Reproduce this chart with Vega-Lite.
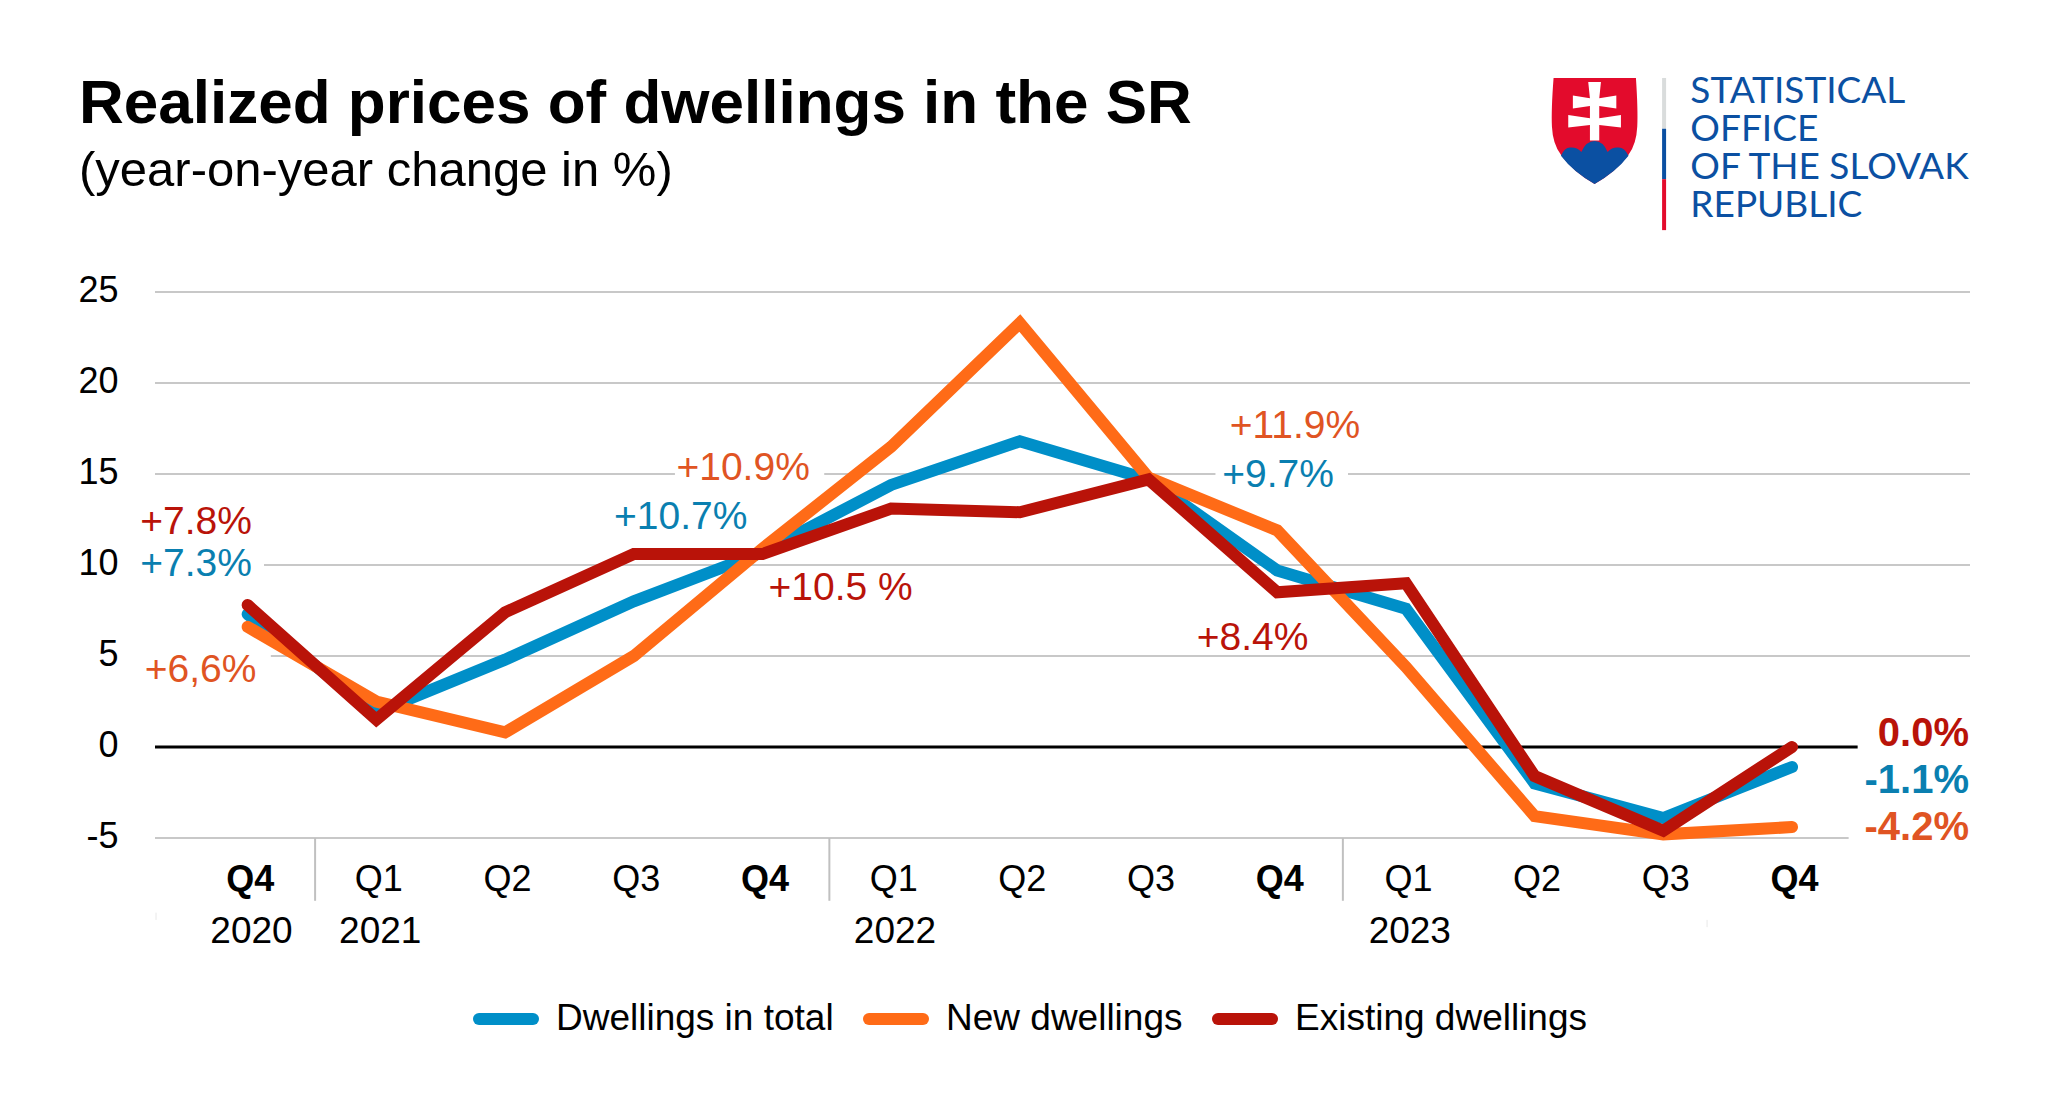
{
"$schema":"https://vega.github.io/schema/vega-lite/v6.json",
"width":1815,"height":546,
"autosize":{"type":"none"},
"padding":{"left":155,"top":292,"right":78,"bottom":279},
"background":"white",
"config":{"view":{"stroke":null},"font":"Liberation Sans","axis":{"title":null,"grid":false,"domain":false,"ticks":false,"labelFont":"Liberation Sans","labelFontSize":36,"labelColor":"black"}},
"title":{"text":"Realized prices of dwellings in the SR","subtitle":"(year-on-year change in %)","anchor":"start","frame":"group","dx":-76,"offset":-124,"font":"Liberation Sans","fontSize":62,"fontWeight":"bold","color":"black","subtitleFont":"Liberation Sans","subtitleFontSize":49,"subtitleColor":"black","subtitlePadding":11},
"datasets":{
"grid":[
{"v":25,"from":-0.72,"to":13.383},{"v":20,"from":-0.72,"to":13.383},
{"v":15,"from":-0.72,"to":3.32},{"v":15,"from":4.48,"to":7.52},{"v":15,"from":8.55,"to":13.383},
{"v":10,"from":0.127,"to":13.383},{"v":5,"from":0.18,"to":13.383},{"v":-5,"from":-0.72,"to":12.44}],
"series":[
{"t":0,"series":"Dwellings in total","value":7.3},{"t":1,"series":"Dwellings in total","value":1.9},{"t":2,"series":"Dwellings in total","value":4.8},{"t":3,"series":"Dwellings in total","value":8.0},{"t":4,"series":"Dwellings in total","value":10.7},{"t":5,"series":"Dwellings in total","value":14.4},{"t":6,"series":"Dwellings in total","value":16.8},{"t":7,"series":"Dwellings in total","value":14.7},{"t":8,"series":"Dwellings in total","value":9.7},{"t":9,"series":"Dwellings in total","value":7.6},{"t":10,"series":"Dwellings in total","value":-2.0},{"t":11,"series":"Dwellings in total","value":-3.9},{"t":12,"series":"Dwellings in total","value":-1.1},
{"t":0,"series":"New dwellings","value":6.6},{"t":1,"series":"New dwellings","value":2.5},{"t":2,"series":"New dwellings","value":0.8},{"t":3,"series":"New dwellings","value":5.0},{"t":4,"series":"New dwellings","value":10.9},{"t":5,"series":"New dwellings","value":16.5},{"t":6,"series":"New dwellings","value":23.3},{"t":7,"series":"New dwellings","value":14.8},{"t":8,"series":"New dwellings","value":11.9},{"t":9,"series":"New dwellings","value":4.4},{"t":10,"series":"New dwellings","value":-3.8},{"t":11,"series":"New dwellings","value":-4.8},{"t":12,"series":"New dwellings","value":-4.4},
{"t":0,"series":"Existing dwellings","value":7.8},{"t":1,"series":"Existing dwellings","value":1.5},{"t":2,"series":"Existing dwellings","value":7.4},{"t":3,"series":"Existing dwellings","value":10.6},{"t":4,"series":"Existing dwellings","value":10.6},{"t":5,"series":"Existing dwellings","value":13.1},{"t":6,"series":"Existing dwellings","value":12.9},{"t":7,"series":"Existing dwellings","value":14.7},{"t":8,"series":"Existing dwellings","value":8.5},{"t":9,"series":"Existing dwellings","value":9.0},{"t":10,"series":"Existing dwellings","value":-1.6},{"t":11,"series":"Existing dwellings","value":-4.6},{"t":12,"series":"Existing dwellings","value":0.0}],
"labels":[
{"t":-0.401,"v":12.39,"series":"Existing dwellings","label":"+7.8%"},
{"t":-0.401,"v":10.08,"series":"Dwellings in total","label":"+7.3%"},
{"t":-0.366,"v":4.23,"series":"New dwellings","label":"+6,6%"},
{"t":3.85,"v":15.33,"series":"New dwellings","label":"+10.9%"},
{"t":3.365,"v":12.64,"series":"Dwellings in total","label":"+10.7%"},
{"t":4.607,"v":8.74,"series":"Existing dwellings","label":"+10.5 %"},
{"t":8.138,"v":17.64,"series":"New dwellings","label":"+11.9%"},
{"t":8.006,"v":14.95,"series":"Dwellings in total","label":"+9.7%"},
{"t":7.808,"v":5.99,"series":"Existing dwellings","label":"+8.4%"}],
"finals":[
{"t":13.375,"v":0.7,"series":"Existing dwellings","label":"0.0%"},
{"t":13.375,"v":-1.88,"series":"Dwellings in total","label":"-1.1%"},
{"t":13.375,"v":-4.47,"series":"New dwellings","label":"-4.2%"}]
},
"layer":[
{"data":{"name":"grid"},"mark":{"type":"rule","color":"#c8c8c8","strokeWidth":2},
 "encoding":{"x":{"field":"from","type":"quantitative","scale":{"domain":[-0.72,13.383],"nice":false,"zero":false},
   "axis":{"title":null,"values":[0,1,2,3,4,5,6,7,8,9,10,11,12],"labelExpr":"['Q4','Q1','Q2','Q3','Q4','Q1','Q2','Q3','Q4','Q1','Q2','Q3','Q4'][datum.value]","labelPadding":24,"labelOffset":2,"labelFontWeight":{"condition":{"test":"datum.value%4==0","value":"bold"},"value":"normal"},"labelFlush":false,"labelOverlap":false}},
  "x2":{"field":"to"},
  "y":{"field":"v","type":"quantitative","scale":{"domain":[-5,25],"nice":false,"zero":false},
   "axis":{"title":null,"values":[-5,0,5,10,15,20,25],"labelExpr":"'' + datum.value","labelPadding":37,"labelOffset":-2}}}},
{"data":{"values":[{"v":0,"from":-0.72,"to":12.51}]},"mark":{"type":"rule","color":"black","strokeWidth":3},
 "encoding":{"x":{"field":"from","type":"quantitative","scale":{"domain":[-0.72,13.383],"nice":false,"zero":false}},"x2":{"field":"to"},"y":{"field":"v","type":"quantitative","scale":{"domain":[-5,25],"nice":false,"zero":false}}}},
{"data":{"values":[{"t":0.524,"lo":-5,"hi":-8.45},{"t":4.52,"lo":-5,"hi":-8.45},{"t":8.51,"lo":-5,"hi":-8.45}]},"mark":{"type":"rule","color":"#c0c0c0","strokeWidth":2},
 "encoding":{"x":{"field":"t","type":"quantitative","scale":{"domain":[-0.72,13.383],"nice":false,"zero":false}},"y":{"field":"lo","type":"quantitative","scale":{"domain":[-5,25],"nice":false,"zero":false}},"y2":{"field":"hi"}}},
{"data":{"values":[{"t":-0.712,"lo":-9.1,"hi":-9.5},{"t":11.34,"lo":-9.5,"hi":-9.9}]},"mark":{"type":"rule","color":"#e8e8e8","strokeWidth":1},
 "encoding":{"x":{"field":"t","type":"quantitative","scale":{"domain":[-0.72,13.383],"nice":false,"zero":false}},"y":{"field":"lo","type":"quantitative","scale":{"domain":[-5,25],"nice":false,"zero":false}},"y2":{"field":"hi"}}},
{"data":{"name":"series"},"mark":{"type":"line","strokeWidth":12,"strokeCap":"round","strokeJoin":"miter"},
 "encoding":{"x":{"field":"t","type":"quantitative","scale":{"domain":[-0.72,13.383],"nice":false,"zero":false}},
  "y":{"field":"value","type":"quantitative","scale":{"domain":[-5,25],"nice":false,"zero":false}},
  "color":{"field":"series","type":"nominal","scale":{"domain":["Dwellings in total","New dwellings","Existing dwellings"],"range":["#008fc8","#ff6b17","#b91309"]},
   "legend":{"orient":"none","legendX":318,"legendY":694,"direction":"horizontal","columns":3,"title":null,"symbolType":"stroke","symbolSize":2916,"symbolStrokeWidth":12,"labelFont":"Liberation Sans","labelFontSize":37,"labelLimit":500,"labelColor":"black","labelOffset":17,"columnPadding":11,"padding":0,"symbolOffset":0,"encode":{"symbols":{"update":{"strokeCap":{"value":"round"}}}}}}}},
{"data":{"name":"labels"},"mark":{"type":"text","font":"Liberation Sans","fontSize":39,"align":"center","baseline":"middle"},
 "encoding":{"x":{"field":"t","type":"quantitative","scale":{"domain":[-0.72,13.383],"nice":false,"zero":false}},"y":{"field":"v","type":"quantitative","scale":{"domain":[-5,25],"nice":false,"zero":false}},"text":{"field":"label"},
  "color":{"field":"series","type":"nominal","legend":null,"scale":{"domain":["Dwellings in total","New dwellings","Existing dwellings"],"range":["#0a7fb0","#e05423","#b91309"]}}}},
{"data":{"name":"finals"},"mark":{"type":"text","font":"Liberation Sans","fontSize":40,"fontWeight":"bold","align":"right","baseline":"middle"},
 "encoding":{"x":{"field":"t","type":"quantitative","scale":{"domain":[-0.72,13.383],"nice":false,"zero":false}},"y":{"field":"v","type":"quantitative","scale":{"domain":[-5,25],"nice":false,"zero":false}},"text":{"field":"label"},
  "color":{"field":"series","type":"nominal","legend":null,"scale":{"domain":["Dwellings in total","New dwellings","Existing dwellings"],"range":["#0a7fb0","#e05423","#b91309"]}}}},
{"data":{"values":[{"t":0.03,"v":-10.16,"year":"2020"},{"t":1.03,"v":-10.16,"year":"2021"},{"t":5.03,"v":-10.16,"year":"2022"},{"t":9.03,"v":-10.16,"year":"2023"}]},"mark":{"type":"text","font":"Liberation Sans","fontSize":37,"color":"black","align":"center","baseline":"middle"},
 "encoding":{"x":{"field":"t","type":"quantitative","scale":{"domain":[-0.72,13.383],"nice":false,"zero":false}},"y":{"field":"v","type":"quantitative","scale":{"domain":[-5,25],"nice":false,"zero":false}},"text":{"field":"year"}}},
{"data":{"values":[{"t":11.006,"lo":36.76,"hi":33.97}]},"mark":{"type":"rule","color":"#d9dcdc","strokeWidth":4},
 "encoding":{"x":{"field":"t","type":"quantitative","scale":{"domain":[-0.72,13.383],"nice":false,"zero":false}},"y":{"field":"lo","type":"quantitative","scale":{"domain":[-5,25],"nice":false,"zero":false}},"y2":{"field":"hi"}}},
{"data":{"values":[{"t":11.006,"lo":33.97,"hi":31.2}]},"mark":{"type":"rule","color":"#0b50a2","strokeWidth":4},
 "encoding":{"x":{"field":"t","type":"quantitative","scale":{"domain":[-0.72,13.383],"nice":false,"zero":false}},"y":{"field":"lo","type":"quantitative","scale":{"domain":[-5,25],"nice":false,"zero":false}},"y2":{"field":"hi"}}},
{"data":{"values":[{"t":11.006,"lo":31.2,"hi":28.4}]},"mark":{"type":"rule","color":"#e30b2c","strokeWidth":4},
 "encoding":{"x":{"field":"t","type":"quantitative","scale":{"domain":[-0.72,13.383],"nice":false,"zero":false}},"y":{"field":"lo","type":"quantitative","scale":{"domain":[-5,25],"nice":false,"zero":false}},"y2":{"field":"hi"}}},
{"data":{"values":[{"t":11.21,"v":35.38,"line":"STATISTICAL"},{"t":11.21,"v":33.3,"line":"OFFICE"},{"t":11.21,"v":31.2,"line":"OF THE SLOVAK"},{"t":11.21,"v":29.12,"line":"REPUBLIC"}]},"mark":{"type":"text","font":"Lato","fontSize":37,"color":"#0b50a2","align":"left","baseline":"alphabetic"},
 "encoding":{"x":{"field":"t","type":"quantitative","scale":{"domain":[-0.72,13.383],"nice":false,"zero":false}},"y":{"field":"v","type":"quantitative","scale":{"domain":[-5,25],"nice":false,"zero":false}},"text":{"field":"line"}}},
{"data":{"values":[{"t":10.466,"v":33.85}]},"mark":{"type":"point","filled":true,"opacity":1,"size":11236,"color":"#e30b2c","shape":"M-0.774-1L0.78-1Q0.82-0.4 0.805-0.082Q0.79 0.25 0.64 0.45Q0.4 0.78 0 1Q-0.4 0.78-0.635 0.45Q-0.79 0.25-0.805-0.082Q-0.82-0.4-0.774-1Z"},
 "encoding":{"x":{"field":"t","type":"quantitative","scale":{"domain":[-0.72,13.383],"nice":false,"zero":false}},"y":{"field":"v","type":"quantitative","scale":{"domain":[-5,25],"nice":false,"zero":false}}}},
{"data":{"values":[{"t":10.466,"v":33.85}]},"mark":{"type":"point","filled":true,"opacity":1,"size":11236,"color":"#0b50a2","shape":"M-0.635 0.47Q-0.56 0.3-0.447 0.314Q-0.33 0.31-0.25 0.396Q-0.16 0.19 0 0.19Q0.16 0.19 0.245 0.396Q0.33 0.31 0.434 0.314Q0.56 0.3 0.64 0.47Q0.4 0.78 0 1Q-0.4 0.78-0.635 0.47Z"},
 "encoding":{"x":{"field":"t","type":"quantitative","scale":{"domain":[-0.72,13.383],"nice":false,"zero":false}},"y":{"field":"v","type":"quantitative","scale":{"domain":[-5,25],"nice":false,"zero":false}}}},
{"data":{"values":[{"t":10.466,"v":33.85}]},"mark":{"type":"point","filled":true,"opacity":1,"size":11236,"color":"white","shape":"M-0.12-0.925L0.12-0.925L0.088-0.616L0.41-0.667L0.41-0.421L0.088-0.472L0.088-0.239L0.497-0.302L0.497-0.063L0.088-0.113L0.088 0.182L-0.088 0.182L-0.088-0.113L-0.497-0.063L-0.497-0.302L-0.088-0.239L-0.088-0.472L-0.41-0.421L-0.41-0.667L-0.088-0.616Z"},
 "encoding":{"x":{"field":"t","type":"quantitative","scale":{"domain":[-0.72,13.383],"nice":false,"zero":false}},"y":{"field":"v","type":"quantitative","scale":{"domain":[-5,25],"nice":false,"zero":false}}}}
],
"resolve":{"scale":{"color":"independent"}}
}
